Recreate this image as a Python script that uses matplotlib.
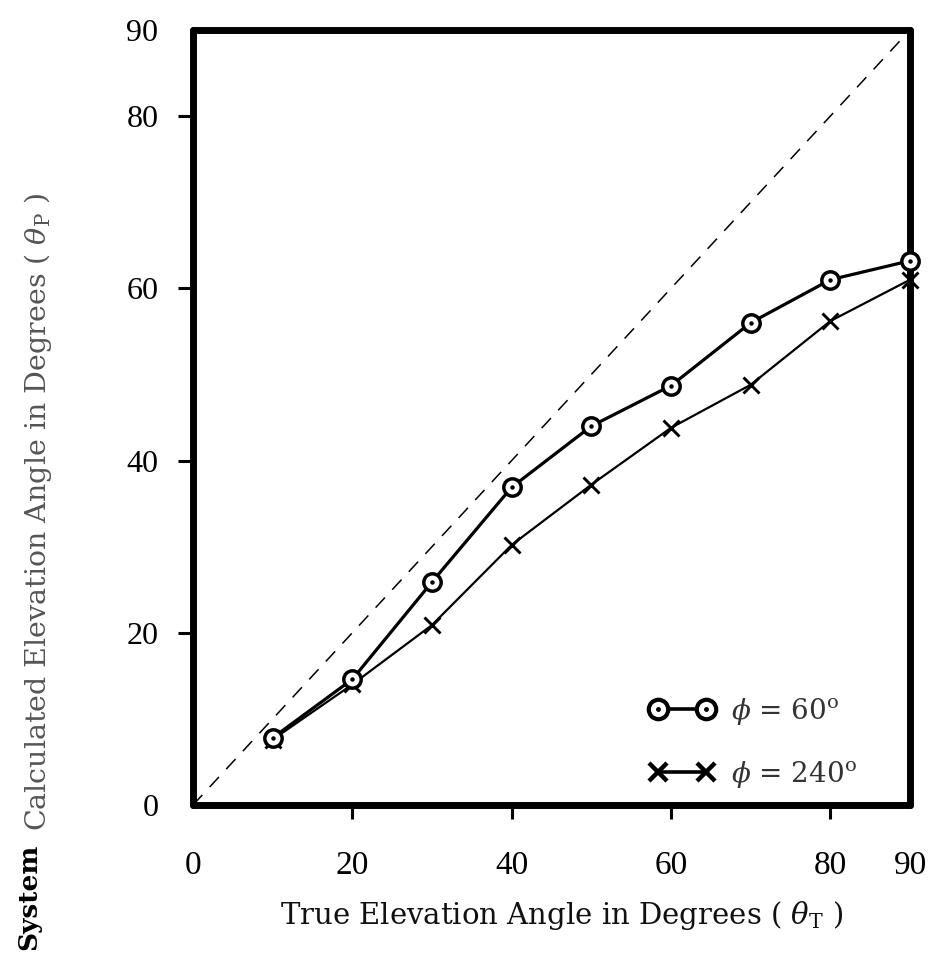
import matplotlib
matplotlib.use("Agg")
import matplotlib.pyplot as plt
from matplotlib.legend_handler import HandlerTuple

# Data
theta_true = [10, 20, 30, 40, 50, 60, 70, 80, 90]
phi60 = [7.8, 14.6, 25.9, 36.9, 44.0, 48.7, 56.0, 61.0, 63.2]
phi240 = [7.6, 14.0, 20.9, 30.2, 37.2, 43.8, 48.8, 56.2, 61.0]
ideal = [0, 90]

xticks = [0, 20, 40, 60, 80, 90]
yticks = [0, 20, 40, 60, 80, 90]

plt.rcParams['mathtext.fontset'] = 'dejavuserif'

W, H = 936, 958
fig = plt.figure(figsize=(W / 100, H / 100), dpi=100)
ax = fig.add_axes([193 / W, 1 - 805 / H, (910 - 193) / W, (805 - 30) / H])

ax.set_xlim(0, 90)
ax.set_ylim(0, 90)

# dashed ideal line
ax.plot(ideal, ideal, color='black', lw=1.1, dashes=(9, 7), zorder=1)

# phi = 240 series (crosses, thinner line)
l240, = ax.plot(theta_true, phi240, color='black', lw=1.6, marker='x', ms=12,
                mew=2.1, zorder=3, clip_on=False)

# phi = 60 series (dotted circles, heavier line)
l60, = ax.plot(theta_true, phi60, color='black', lw=2.3, marker='o', ms=12.5,
               mfc='white', mec='black', mew=2.5, zorder=4, clip_on=False)
d60, = ax.plot(theta_true, phi60, ls='none', marker='o', ms=2.2, color='black',
               zorder=5, clip_on=False)

for s in ax.spines.values():
    s.set_linewidth(5)
    s.set_capstyle('round')

ax.set_xticks(xticks)
ax.set_yticks(yticks)
ax.set_xticklabels([str(v) for v in xticks], family='Liberation Serif', fontsize=24)
ax.set_yticklabels([str(v) for v in yticks], family='Liberation Serif', fontsize=23)
ax.tick_params(axis='x', direction='out', length=10, width=2.2, pad=23)
ax.tick_params(axis='y', direction='out', length=11, width=2.2, pad=14)
for tl in [ax.xaxis.get_major_ticks()[0], ax.xaxis.get_major_ticks()[-1],
           ax.yaxis.get_major_ticks()[0], ax.yaxis.get_major_ticks()[-1]]:
    tl.tick1line.set_visible(False)

# axis labels
fig.text(562 / W, 1 - 915 / H,
         r'True Elevation Angle in Degrees ( $\theta_{\mathrm{T}}$ )',
         ha='center', va='center', family='DejaVu Serif', fontsize=21,
         color='#111111')
fig.text(38 / W, 1 - 512 / H,
         r'Calculated Elevation Angle in Degrees ( $\theta_{\mathrm{P}}$ )',
         ha='center', va='center', rotation=90, family='DejaVu Serif',
         fontsize=20.5, color='#555555')
fig.text(29 / W, 1 - 897 / H, 'System', ha='center', va='center', rotation=90,
         family='DejaVu Serif', fontweight='bold', fontsize=19, color='black')

# legend
h60a, = ax.plot([], [], color='black', lw=2.6, marker='o', ms=14, mfc='white',
                mec='black', mew=3.0)
h60b, = ax.plot([], [], ls='none', marker='o', ms=2.5, color='black')
h240, = ax.plot([], [], color='black', lw=2.6, marker='x', ms=13, mew=3.2)
leg = ax.legend([(h60a, h60b), h240],
                [r'$\phi$ = 60$^{\mathrm{o}}$', r'$\phi$ = 240$^{\mathrm{o}}$'],
                handler_map={tuple: HandlerTuple(ndivide=1, pad=0)},
                numpoints=2, handlelength=2.33, handletextpad=0.6,
                labelspacing=1.15, frameon=False, borderpad=0, borderaxespad=0,
                loc='upper left', bbox_to_anchor=(650 / W, 1 - 696 / H),
                bbox_transform=fig.transFigure,
                prop={'family': 'DejaVu Serif', 'size': 20})
for t in leg.get_texts():
    t.set_color('#333333')

fig.savefig('out.png', dpi=100)
